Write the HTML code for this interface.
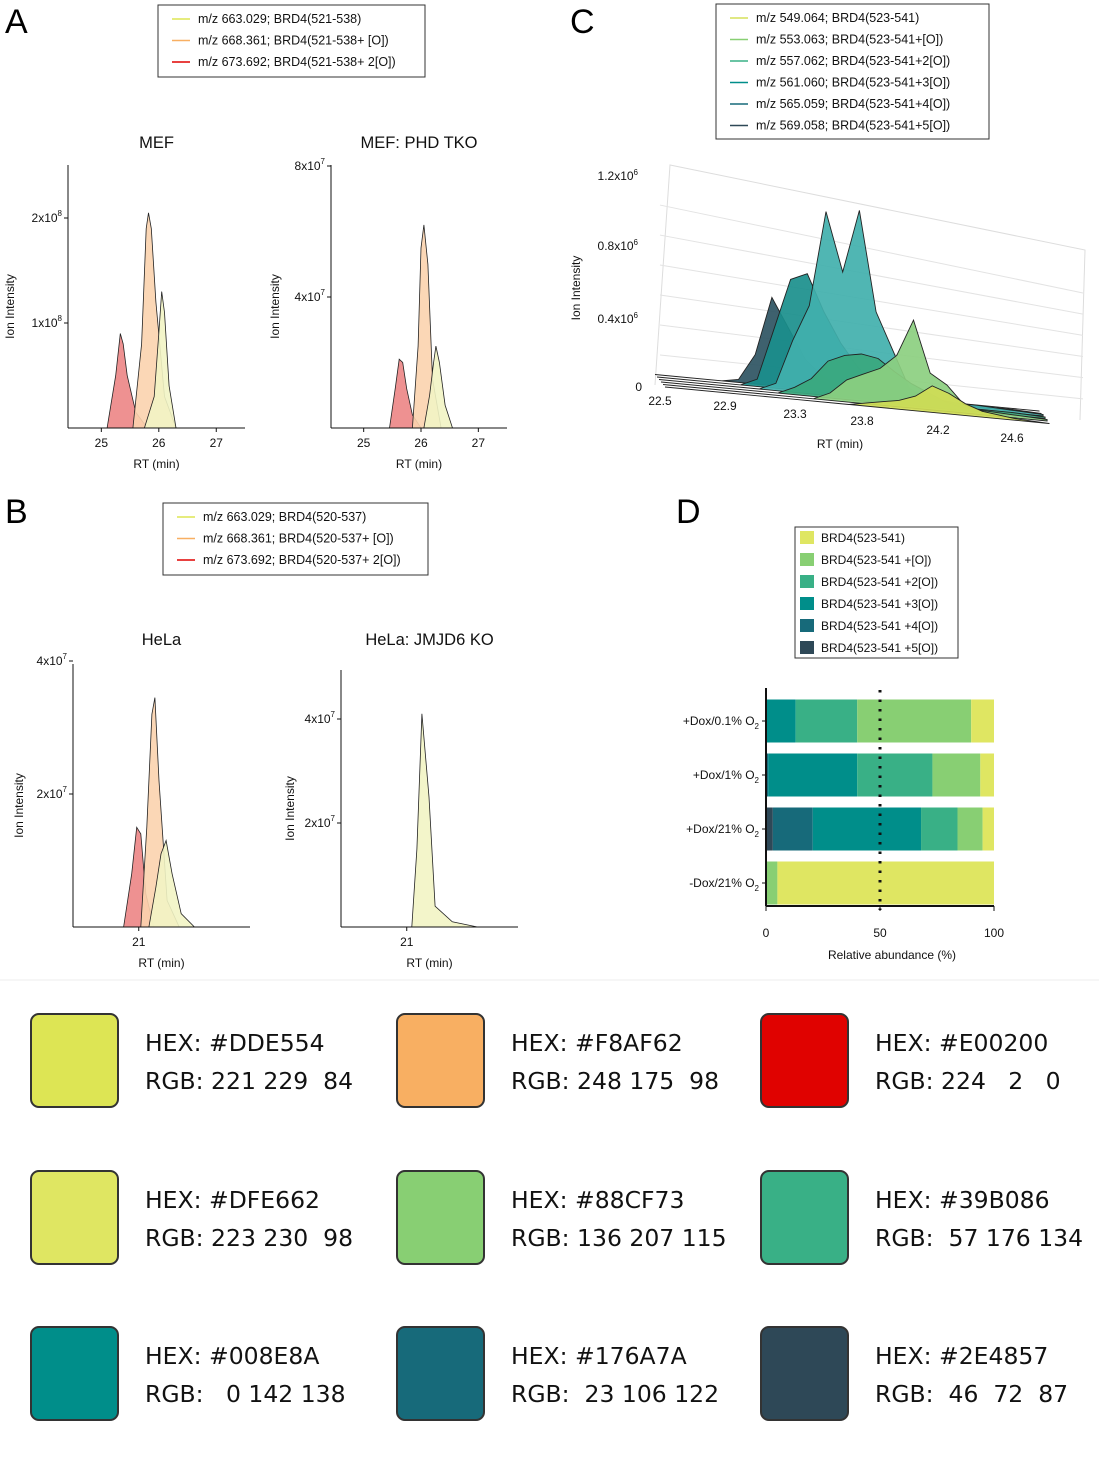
<!DOCTYPE html>
<html><head><meta charset="utf-8"><style>
body{margin:0;background:#fff;font-family:"Liberation Sans",sans-serif;}
svg text{font-family:"Liberation Sans",sans-serif;}
.sw text{font-family:"DejaVu Sans","Liberation Sans",sans-serif;}
</style></head><body>
<svg id="s" width="1099" height="1453" viewBox="0 0 1099 1453" xmlns="http://www.w3.org/2000/svg">
<rect width="1099" height="1453" fill="#fff"/>
<text x="5" y="33" font-size="34">A</text>
<text x="5" y="523" font-size="34">B</text>
<text x="570" y="33" font-size="34">C</text>
<text x="676" y="523" font-size="34">D</text>
<line x1="0" y1="980" x2="1099" y2="980" stroke="#eee"/>
<g id="g"></g>
</svg>
<script>
// ---- data ----
const legA=["m/z 663.029; BRD4(521-538)","m/z 668.361; BRD4(521-538+ [O])","m/z 673.692; BRD4(521-538+ 2[O])"];
const legB=["m/z 663.029; BRD4(520-537)","m/z 668.361; BRD4(520-537+ [O])","m/z 673.692; BRD4(520-537+ 2[O])"];
const legC=["m/z 549.064; BRD4(523-541)","m/z 553.063; BRD4(523-541+[O])","m/z 557.062; BRD4(523-541+2[O])","m/z 561.060; BRD4(523-541+3[O])","m/z 565.059; BRD4(523-541+4[O])","m/z 569.058; BRD4(523-541+5[O])"];
const legD=["BRD4(523-541)","BRD4(523-541 +[O])","BRD4(523-541 +2[O])","BRD4(523-541 +3[O])","BRD4(523-541 +4[O])","BRD4(523-541 +5[O])"];
const colD=["#DFE662","#88CF73","#39B086","#008E8A","#176A7A","#2E4857"];
const rowsD=["+Dox/0.1% O","+Dox/1% O","+Dox/21% O","-Dox/21% O"];
// percentages per row, order +0,+1,+2,+3,+4,+5
const pct0=[10,50,27,13,0,0];
const pct1=[6,21,33,39,1,0];
const pct2=[5,11,16,47.5,17.5,3];
const pct3=[95,5,0,0,0,0];
// chromatogram peaks (RT, intensity)
const mefRT=[[25.75,25.92,26.0,26.05,26.1,26.18,26.3],[25.55,25.7,25.78,25.82,25.87,25.95,26.1,26.3],[25.1,25.25,25.33,25.38,25.45,25.6,25.8]];
const mefI=[[0,0.3e8,0.9e8,1.3e8,1.1e8,0.4e8,0],[0,0.8e8,1.9e8,2.05e8,1.9e8,1.2e8,0.3e8,0],[0,0.5e8,0.9e8,0.8e8,0.5e8,0.15e8,0]];
const tkoRT=[[26.05,26.15,26.22,26.26,26.32,26.42,26.55],[25.85,25.95,26.0,26.05,26.12,26.2,26.35],[25.45,25.55,25.62,25.68,25.75,25.85,26.0]];
const tkoI=[[0,1.0e7,2.0e7,2.5e7,2.0e7,0.7e7,0],[0,2.5e7,5.5e7,6.2e7,5.0e7,1.5e7,0],[0,1.2e7,2.1e7,2.0e7,1.2e7,0.4e7,0]];
const helaRT=[[21.1,21.17,21.22,21.27,21.33,21.42,21.55],[21.02,21.08,21.13,21.16,21.2,21.28,21.4],[20.85,20.93,20.98,21.02,21.07,21.15]];
const helaI=[[0,0.6e7,1.1e7,1.3e7,0.8e7,0.2e7,0],[0,1.5e7,3.2e7,3.45e7,2.2e7,0.4e7,0],[0,0.8e7,1.5e7,1.4e7,0.5e7,0]];
const koRT=[[21.05,21.1,21.15,21.22,21.28,21.45,21.7]];
const koI=[[0,1.5e7,4.1e7,2.5e7,0.4e7,0.1e7,0]];
// 3D panel C ridges (RT, 1e6), order +0 (front) .. +5 (back)
const cRT=[22.5,22.9,23.0,23.1,23.2,23.3,23.4,23.5,23.6,23.7,23.8,23.9,24.0,24.1,24.2,24.3,24.4,24.6,24.8];
const c0=[0,0,0,0,0,0,0,0,0,0.02,0.04,0.06,0.1,0.18,0.14,0.08,0.04,0.01,0];
const c1=[0,0,0,0,0,0,0,0.05,0.15,0.2,0.25,0.35,0.6,0.25,0.18,0.06,0.03,0.02,0.01];
const c2=[0,0,0,0,0,0.05,0.12,0.25,0.3,0.32,0.3,0.22,0.15,0.1,0.05,0.02,0.02,0.02,0.01];
const c3=[0,0,0,0,0.05,0.35,0.6,1.25,0.85,1.28,0.6,0.35,0.1,0.05,0.04,0.03,0.03,0.02,0.01];
const c4=[0,0,0,0.05,0.4,0.75,0.8,0.55,0.35,0.2,0.08,0.05,0.03,0.02,0.02,0.01,0.01,0.01,0];
const c5=[0,0,0.02,0.2,0.6,0.4,0.2,0.1,0.05,0.02,0.01,0,0,0,0,0,0,0,0];
const cSeries=[c0,c1,c2,c3,c4,c5];
const cFill=["#cfdc55","#8ccf80","#3aa87e","#41b0ad","#1a8f8c","#2e5462"];
const peakCol=["#f2f4c4","#fbd3ae","#ec8585"];
const lineCol=["#DDE554","#F8AF62","#E00200"];
const hexes=["#DDE554","#F8AF62","#E00200","#DFE662","#88CF73","#39B086","#008E8A","#176A7A","#2E4857"];
const rgbs=["221 229  84","248 175  98","224   2   0","223 230  98","136 207 115"," 57 176 134","  0 142 138"," 23 106 122"," 46  72  87"];

const NS="http://www.w3.org/2000/svg",G=document.getElementById('g');
function el(t,a,p){const e=document.createElementNS(NS,t);for(const k in a)e.setAttribute(k,a[k]);(p||G).appendChild(e);return e;}
function tx(x,y,s,fs,p,anchor){const e=el('text',{x:x,y:y,'font-size':fs,'text-anchor':anchor||'start',fill:'#111'},p);e.textContent=s;return e;}

function legend(x,y,w,h,items,cols,name){
  const g=el('g',{});
  
  
  el('rect',{x:x,y:y,width:w,height:h,fill:'#fff',stroke:'#333','stroke-width':1},g);
  items.forEach((s,i)=>{
    const yy=y+14+i*21.5;
    const l=el('line',{x1:x+14,x2:x+32,y1:yy,y2:yy,stroke:cols[i],'stroke-width':1.5},g);
    
    
    const t=tx(x+40,yy+4,s,12.5,g);
    
    
  });
}
legend(158,5,267,72,legA,lineCol,'legend-a');
legend(163,503,265,72,legB,lineCol,'legend-b');
legend(716,4,273,135,legC,["#d6e05a","#88cf73","#39b086","#008e8a","#176a7a","#2e4857"],'legend-c');

function chrom(o){
  const g=el('g',{});
  
  
  const sx=v=>o.x0+(v-o.d0)/(o.d1-o.d0)*(o.x1-o.x0);
  const sy=v=>o.yb-v*o.ky;
  tx((o.x0+o.x1)/2,o.ty,o.title,16.5,g,'middle');
  for(let i=o.rts.length-1;i>=0;i--){
    const rt=o.rts[i],iv=o.ints[i];
    let d='M'+sx(rt[0])+','+o.yb;
    rt.forEach((r,j)=>d+=' L'+sx(r).toFixed(1)+','+sy(iv[j]).toFixed(1));
    d+=' L'+sx(rt[rt.length-1])+','+o.yb+'Z';
    const p=el('path',{d:d,fill:o.cols[i],stroke:'#222','stroke-width':0.8,'fill-opacity':0.9},g);
    
    
  }
  el('line',{x1:o.x0,x2:o.x0,y1:o.yt,y2:o.yb,stroke:'#111'},g);
  el('line',{x1:o.x0,x2:o.x1,y1:o.yb,y2:o.yb,stroke:'#111'},g);
  o.xt.forEach(v=>{el('line',{x1:sx(v),x2:sx(v),y1:o.yb,y2:o.yb+4,stroke:'#111'},g);tx(sx(v),o.yb+19,String(v),12,g,'middle');});
  o.yt2.forEach((v,i)=>{el('line',{x1:o.x0-4,x2:o.x0,y1:sy(v),y2:sy(v),stroke:'#111'},g);
    const t=tx(o.x0-6,sy(v)+4,o.yl[i][0],12,g,'end');const ts=el('tspan',{dy:-6,'font-size':8},t);ts.textContent=o.yl[i][1];});
  tx((o.x0+o.x1)/2,o.yb+40,'RT (min)',12,g,'middle');
  const yl=tx(0,0,'Ion Intensity',12,g,'middle');yl.setAttribute('transform','translate('+o.ylx+','+((o.yt+o.yb)/2+10)+') rotate(-90)');
}
chrom({name:'chart-mef',title:'MEF',ty:148,x0:68,x1:245,d0:24.42,d1:27.5,yb:428,yt:165,ky:105/1e8,rts:mefRT,ints:mefI,cols:peakCol,xt:[25,26,27],yt2:[1e8,2e8],yl:[['1x10','8'],['2x10','8']],ylx:14});
chrom({name:'chart-phd-tko',title:'MEF: PHD TKO',ty:148,x0:331,x1:507,d0:24.43,d1:27.5,yb:428,yt:165,ky:131/4e7,rts:tkoRT,ints:tkoI,cols:peakCol,xt:[25,26,27],yt2:[4e7,8e7],yl:[['4x10','7'],['8x10','7']],ylx:279});
chrom({name:'chart-hela',title:'HeLa',ty:645,x0:73,x1:250,d0:20.35,d1:22.1,yb:927,yt:664,ky:133/2e7,rts:helaRT,ints:helaI,cols:peakCol,xt:[21],yt2:[2e7,4e7],yl:[['2x10','7'],['4x10','7']],ylx:23});
chrom({name:'chart-jmjd6-ko',title:'HeLa: JMJD6 KO',ty:645,x0:341,x1:518,d0:20.35,d1:22.1,yb:927,yt:670,ky:104/2e7,rts:koRT,ints:koI,cols:['#f2f4c4'],xt:[21],yt2:[2e7,4e7],yl:[['2x10','7'],['4x10','7']],ylx:294});

// ---- Panel C (3D) ----
(function(){
  const g=el('g',{});
  
  
  const X=(rt)=>665+(rt-22.5)*167;
  const B=(x)=>387+(x-665)*0.095;
  const K=147;
  el('path',{d:'M655,385 L670,165 L1085,250 L1080,420',fill:'none',stroke:'#ddd'},g);
  for(let i=1;i<=6;i++){const v=i*0.2;el('line',{x1:660,y1:385-v*K*1.02,x2:1083,y2:420-v*K*0.72,stroke:'#e3e3e3'},g);}
  for(let s=5;s>=0;s--){
    const arr=cSeries[s],dx=-s*2,dy=-s*2.5;
    let d='M'+(X(cRT[0])+dx)+','+(B(X(cRT[0]))+dy);
    cRT.forEach((r,j)=>{const x=X(r)+dx;d+=' L'+x.toFixed(1)+','+(B(x-dx)+dy-arr[j]*K).toFixed(1);});
    const xe=X(cRT[cRT.length-1])+dx;d+=' L'+xe+','+(B(xe-dx)+dy)+'Z';
    const p=el('path',{d:d,fill:cFill[s],stroke:'#222','stroke-width':0.9,'fill-opacity':0.92},g);
    
    
  }
  [[22.5,660,405],[22.9,725,410],[23.3,795,418],[23.8,862,425],[24.2,938,434],[24.6,1012,442]].forEach(t=>tx(t[1],t[2],String(t[0]),12,g,'middle'));
  tx(642,391,'0',12,g,'end');
  [['0.4x10',323],['0.8x10',250],['1.2x10',180]].forEach(t=>{const e=tx(638,t[1],t[0],12,g,'end');const ts=el('tspan',{dy:-5,'font-size':8},e);ts.textContent='6';});
  tx(840,448,'RT (min)',12,g,'middle');
  const yl=tx(0,0,'Ion Intensity',12,g,'middle');yl.setAttribute('transform','translate(580,288) rotate(-90)');
})();

// ---- Panel D ----
(function(){
  const g=el('g',{});
  
  
  el('rect',{x:795,y:527,width:163,height:131,fill:'#fff',stroke:'#333'},g);
  legD.forEach((s,i)=>{const y=531+i*22;
    const r=el('rect',{x:800,y:y,width:14,height:13,fill:colD[i]},g);
    
    
    tx(821,y+11,s,12,g);});
  const x0=766,x1=994,sx=v=>x0+v/100*(x1-x0);
  const rows=[pct0,pct1,pct2,pct3],cy=[721,775,829,883];
  rows.forEach((r,i)=>{
    let acc=0;
    for(let k=5;k>=0;k--){if(!r[k])continue;
      const b=el('rect',{x:sx(acc),y:cy[i]-21.5,width:sx(acc+r[k])-sx(acc),height:43,fill:colD[k]},g);
      
      
      acc+=r[k];}
    el('line',{x1:x0-4,x2:x0,y1:cy[i],y2:cy[i],stroke:'#111'},g);
    const t=tx(x0-7,cy[i]+4,rowsD[i],12,g,'end');
    const sub=el('tspan',{dy:4,'font-size':8},t);sub.textContent='2';
  });
  el('line',{x1:sx(50),x2:sx(50),y1:690,y2:910,stroke:'#111','stroke-width':3,'stroke-dasharray':'2.5,7'},g);
  el('line',{x1:x0,x2:x0,y1:688,y2:906,stroke:'#111','stroke-width':2},g);
  el('line',{x1:x0,x2:x1,y1:906,y2:906,stroke:'#111','stroke-width':2},g);
  [0,50,100].forEach(v=>{el('line',{x1:sx(v),x2:sx(v),y1:906,y2:911,stroke:'#111'},g);tx(sx(v),937,String(v),12,g,'middle');});
  tx(892,959,'Relative abundance (%)',12,g,'middle');
})();

// ---- Swatches ----
(function(){
  const g=el('g',{class:'sw'});
  
  
  const cx=[30,396,760],cy=[1013,1170,1326];
  hexes.forEach((h,i)=>{const x=cx[i%3],y=cy[Math.floor(i/3)];
    const r=el('rect',{x:x+1,y:y+1,width:87,height:93,rx:8,fill:h,stroke:'#333','stroke-width':2},g);
    
    
    const t1=tx(x+115,y+38,'HEX: '+h,23.5,g);t1.setAttribute('style','white-space:pre');
    const t2=tx(x+115,y+76,'RGB: '+rgbs[i],23.5,g);t2.setAttribute('style','white-space:pre');
  });
})();
</script>
</body></html>
